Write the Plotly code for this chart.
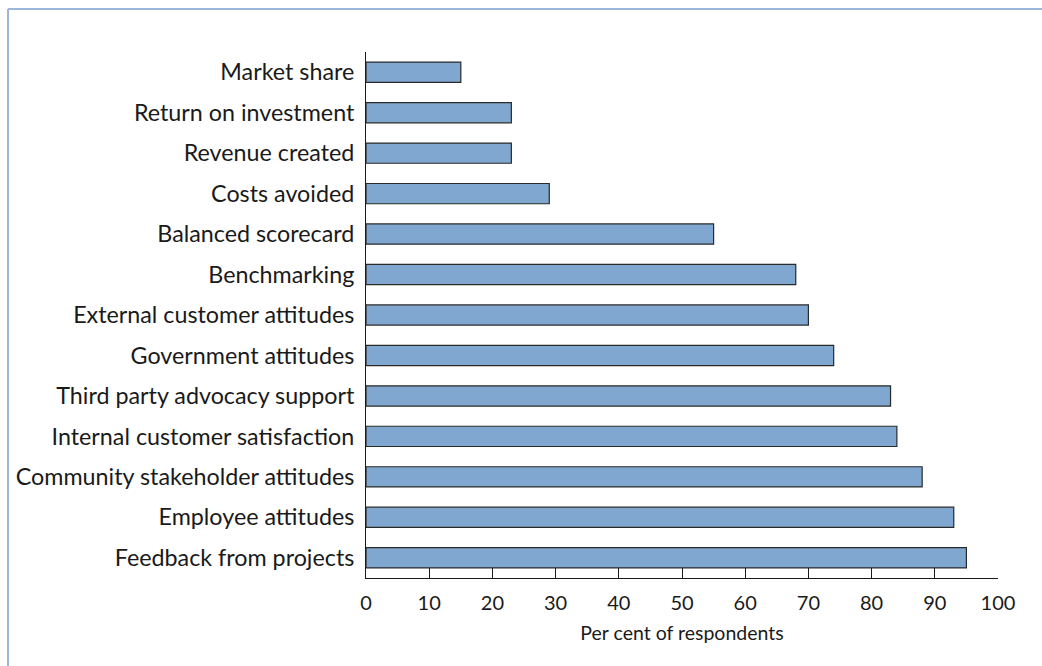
import plotly.graph_objects as go

# Measurement methods, top to bottom, with share of respondents using each
methods = [
    "Market share",
    "Return on investment",
    "Revenue created",
    "Costs avoided",
    "Balanced scorecard",
    "Benchmarking",
    "External customer attitudes",
    "Government attitudes",
    "Third party advocacy support",
    "Internal customer satisfaction",
    "Community stakeholder attitudes",
    "Employee attitudes",
    "Feedback from projects",
]
percent = [15, 23, 23, 29, 55, 68, 70, 74, 83, 84, 88, 93, 95]
x_ticks = [0, 10, 20, 30, 40, 50, 60, 70, 80, 90, 100]

W, H = 1042, 666
ML, MR, MT, MB = 366, 44, 52, 88
PW, PH = W - ML - MR, H - MT - MB

fig = go.Figure(
    go.Bar(
        x=percent,
        y=methods,
        orientation="h",
        width=0.5,
        marker=dict(color="#7fa7cf", line=dict(color="#2a2a2a", width=1.2)),
        hoverinfo="x+y",
    )
)

fig.update_layout(
    width=W,
    height=H,
    margin=dict(l=ML, r=MR, t=MT, b=MB),
    paper_bgcolor="white",
    plot_bgcolor="white",
    font=dict(family="Lato, 'Open Sans', sans-serif", color="#1a1a1a"),
    showlegend=False,
    bargap=0.5,
)

fig.update_xaxes(
    range=[0, 100],
    tickvals=x_ticks,
    ticks="inside",
    ticklen=10,
    tickwidth=1,
    tickcolor="#1a1a1a",
    showline=True,
    linecolor="#1a1a1a",
    linewidth=1,
    showgrid=False,
    zeroline=False,
    tickfont=dict(size=20),
    ticklabelstandoff=7,
    title=dict(text="Per cent of respondents", font=dict(size=19.5), standoff=13),
    fixedrange=True,
)

fig.update_yaxes(
    categoryorder="array",
    categoryarray=methods,
    autorange="reversed",
    range=[12.5, -0.5],
    showline=True,
    linecolor="#1a1a1a",
    linewidth=1,
    ticks="",
    showgrid=False,
    zeroline=False,
    tickfont=dict(size=23.3),
    ticklabelstandoff=6,
    fixedrange=True,
)

# Light frame along the top and left edges of the figure
def px_to_paper_x(px):
    return (px - ML) / PW

def px_to_paper_y(py):
    return 1 - (py - MT) / PH

frame = dict(color="#9db7d8", width=2)
fig.add_shape(type="line", xref="paper", yref="paper",
              x0=px_to_paper_x(8), x1=px_to_paper_x(W + 5),
              y0=px_to_paper_y(9), y1=px_to_paper_y(9), line=frame)
fig.add_shape(type="line", xref="paper", yref="paper",
              x0=px_to_paper_x(8), x1=px_to_paper_x(8),
              y0=px_to_paper_y(9), y1=px_to_paper_y(H + 5), line=frame)

fig.write_html("out.html", config={"displayModeBar": False})
